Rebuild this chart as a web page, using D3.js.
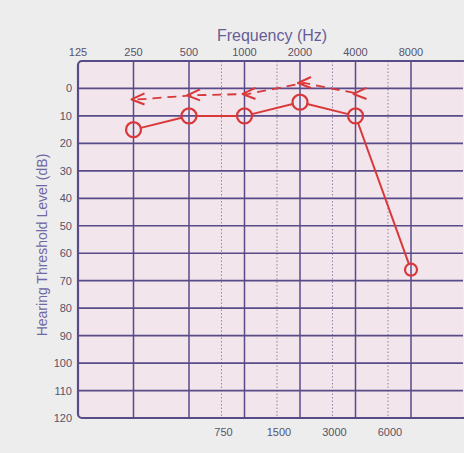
<!DOCTYPE html>
<html>
<head>
<meta charset="utf-8">
<script src="https://cdn.jsdelivr.net/npm/d3@7"></script>
<style>
  html, body { margin: 0; padding: 0; background: #eeeded; }
  svg { display: block; }
</style>
</head>
<body>
<svg id="chart" width="464" height="453"></svg>
<script>
// audiogram data
var topFreqs = [125, 250, 500, 1000, 2000, 4000, 8000];
var midFreqs = [750, 1500, 3000, 6000];
var dbTicks = [0, 10, 20, 30, 40, 50, 60, 70, 80, 90, 100, 110, 120];

var acFreqs = [250, 500, 1000, 2000, 4000, 8000];
var acLevels = [15, 10, 10, 5, 10, 66];

var bcFreqs = [250, 500, 1000, 2000, 4000];
var bcLevels = [4, 2.5, 2, -2, 2];

var svg = d3.select('#chart');

// plot box (note: "top" is taken by window.top)
var pLeft = 78, pRight = 463, pTop = 61, pBottom = 418;

var x = d3.scaleLog().base(2).domain([125, 8000]).range([pLeft, 411]);
var y = d3.scaleLinear().domain([-10, 120]).range([pTop, pBottom]);

var gridColor = '#594a88',
    textColor = '#56536a',
    red = '#d9383a';

// pink plot area
svg.append('rect')
  .attr('x', pLeft).attr('y', pTop)
  .attr('width', pRight - pLeft).attr('height', pBottom - pTop)
  .attr('fill', '#f3e5ec');

// dotted inter-octave lines
svg.append('g').selectAll('line')
  .data(midFreqs).enter().append('line')
  .attr('x1', function(d) { return x(d); })
  .attr('x2', function(d) { return x(d); })
  .attr('y1', pTop).attr('y2', pBottom)
  .attr('stroke', '#8c86a6')
  .attr('stroke-width', 1)
  .attr('stroke-dasharray', '1.5,2');

// octave lines
svg.append('g').selectAll('line')
  .data(topFreqs.slice(1)).enter().append('line')
  .attr('x1', function(d) { return x(d); })
  .attr('x2', function(d) { return x(d); })
  .attr('y1', pTop).attr('y2', pBottom)
  .attr('stroke', gridColor)
  .attr('stroke-width', 1.5);

// dB lines
svg.append('g').selectAll('line')
  .data(dbTicks.slice(0, -1)).enter().append('line')
  .attr('x1', pLeft).attr('x2', pRight)
  .attr('y1', function(d) { return y(d); })
  .attr('y2', function(d) { return y(d); })
  .attr('stroke', gridColor)
  .attr('stroke-width', 1.7);

// frame
svg.append('rect')
  .attr('x', pLeft).attr('y', pTop)
  .attr('width', pRight - pLeft + 4).attr('height', pBottom - pTop)
  .attr('rx', 4)
  .attr('fill', 'none')
  .attr('stroke', gridColor)
  .attr('stroke-width', 2.2);

// tick labels
var font = '"Liberation Sans", Arial, sans-serif';

svg.append('g').selectAll('text')
  .data(topFreqs).enter().append('text')
  .attr('x', function(d) { return x(d); })
  .attr('y', 56)
  .attr('text-anchor', 'middle')
  .attr('font-family', font).attr('font-size', 11)
  .attr('fill', textColor)
  .text(function(d) { return d; });

svg.append('g').selectAll('text')
  .data(midFreqs).enter().append('text')
  .attr('x', function(d) { return x(d) + 2; })
  .attr('y', 436)
  .attr('text-anchor', 'middle')
  .attr('font-family', font).attr('font-size', 11)
  .attr('fill', textColor)
  .text(function(d) { return d; });

svg.append('g').selectAll('text')
  .data(dbTicks).enter().append('text')
  .attr('x', 72)
  .attr('y', function(d) { return y(d) + 4; })
  .attr('text-anchor', 'end')
  .attr('font-family', font).attr('font-size', 11)
  .attr('fill', textColor)
  .text(function(d) { return d; });

// titles
svg.append('text')
  .attr('x', 272).attr('y', 41)
  .attr('text-anchor', 'middle')
  .attr('font-family', font).attr('font-size', 16)
  .attr('fill', '#675d96')
  .text('Frequency (Hz)');

svg.append('text')
  .attr('transform', 'translate(47,245) rotate(-90)')
  .attr('text-anchor', 'middle')
  .attr('font-family', font).attr('font-size', 14)
  .attr('fill', '#7068a4')
  .text('Hearing Threshold Level (dB)');

// air conduction: circles joined by segments that stop at the rims
var ac = acFreqs.map(function(f, i) { return [x(f), y(acLevels[i])]; });
var rad = [7.5, 7.5, 7.5, 7.5, 7.5, 6];

var segs = [];
for (var i = 0; i < ac.length - 1; i++) {
  var a = ac[i], b = ac[i + 1],
      dx = b[0] - a[0], dy = b[1] - a[1],
      len = Math.sqrt(dx * dx + dy * dy);
  segs.push([
    [a[0] + dx / len * rad[i], a[1] + dy / len * rad[i]],
    [b[0] - dx / len * rad[i + 1], b[1] - dy / len * rad[i + 1]]
  ]);
}

svg.append('g').selectAll('line')
  .data(segs).enter().append('line')
  .attr('x1', function(d) { return d[0][0]; })
  .attr('y1', function(d) { return d[0][1]; })
  .attr('x2', function(d) { return d[1][0]; })
  .attr('y2', function(d) { return d[1][1]; })
  .attr('stroke', red)
  .attr('stroke-width', 2);

svg.append('g').selectAll('circle')
  .data(ac).enter().append('circle')
  .attr('cx', function(d) { return d[0]; })
  .attr('cy', function(d) { return d[1]; })
  .attr('r', function(d, i) { return rad[i]; })
  .attr('fill', 'none')
  .attr('stroke', red)
  .attr('stroke-width', 2.2);

// bone conduction: "<" marks joined by a dashed line
var bc = bcFreqs.map(function(f, i) { return [x(f), y(bcLevels[i])]; });

svg.append('path')
  .attr('d', d3.line()(bc.map(function(p) { return [p[0] + 4, p[1]]; })))
  .attr('fill', 'none')
  .attr('stroke', red)
  .attr('stroke-width', 1.8)
  .attr('stroke-dasharray', '9,6');

svg.append('g').selectAll('path')
  .data(bc).enter().append('path')
  .attr('d', function(d) {
    return 'M' + (d[0] + 11) + ',' + (d[1] - 6) +
           'L' + (d[0] - 2) + ',' + d[1] +
           'L' + (d[0] + 11) + ',' + (d[1] + 5);
  })
  .attr('fill', 'none')
  .attr('stroke', red)
  .attr('stroke-width', 2)
  .attr('stroke-linejoin', 'round');
</script>
</body>
</html>
